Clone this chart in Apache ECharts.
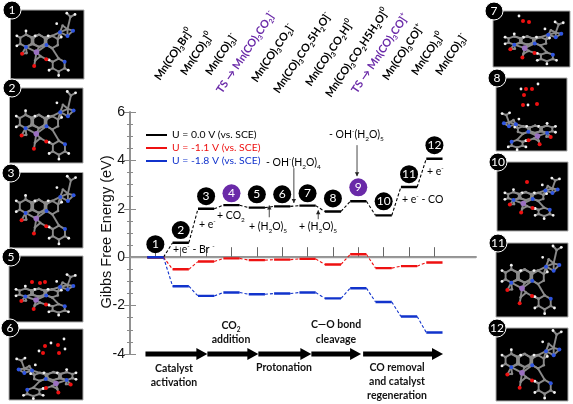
<!DOCTYPE html>
<html><head><meta charset="utf-8">
<style>html,body{margin:0;padding:0;background:#fff}#c{width:573px;height:404px}</style>
<script src="https://cdn.jsdelivr.net/npm/echarts@6/dist/echarts.min.js"></script>
</head><body><div id="c"></div>
<script>
const steps=[1,2,3,4,5,6,7,8,9,10,11,12];
const u00=[0,0.6,2.0,2.15,2.05,2.1,2.13,1.89,2.31,1.73,2.9,4.07];
const u11=[0,-0.5,-0.18,-0.05,-0.12,-0.1,-0.07,-0.3,0.12,-0.45,-0.37,-0.22];
const u18=[0,-1.2,-1.6,-1.46,-1.53,-1.5,-1.46,-1.7,-1.28,-1.85,-2.45,-3.11];
const badgeY=[0.54,1.12,2.52,2.64,2.6,2.6,2.64,2.43,2.89,2.31,3.43,4.63];
const badgeTS=[4,9];
const stageArrows=[[0.61,3.05],[3.05,5.06],[5.06,7.15],[7.15,9.11],[9.19,12.34]];
const noteArrows=[[5.49,1.65,2.14],[6.46,3.68,2.24],[7.42,1.57,1.94],[8.95,4.63,3.35]];
const F='Lato, "Open Sans", sans-serif', A='"Liberation Sans", Arial, sans-serif';
const HALF=0.32;
const plateaus=v=>v.flatMap((y,i)=>[[steps[i]-HALF,y],[steps[i]+HALF,y],[steps[i]+HALF,'-']]);
const links=v=>v.slice(0,-1).flatMap((y,i)=>[[steps[i]+HALF,y],[steps[i+1]-HALF,v[i+1]],[steps[i+1]-HALF,'-']]);
const names=['U = 0.0 V (vs. SCE)','U = -1.1 V (vs. SCE)','U = -1.8 V (vs. SCE)'];
const cols=['#000','#ee1111','#1133cc'];
const vals=[u00,u11,u18];

/* ---- text ---- */
const rich=(size,color,weight)=>({
  n:{fontFamily:F,fontSize:size,fill:color,fontWeight:weight||'normal',lineHeight:size+4,verticalAlign:'middle'},
  s:{fontFamily:F,fontSize:size*0.62,fill:color,fontWeight:weight||'normal',lineHeight:size+4,verticalAlign:'bottom'},
  u:{fontFamily:F,fontSize:size*0.62,fill:color,fontWeight:weight||'normal',lineHeight:size+4,verticalAlign:'top'}
});
const T=(x,y,text,o={})=>({type:'text',x,y,rotation:(o.rot||0)*Math.PI/180,z:20,silent:true,
  style:{text,align:o.align||'left',verticalAlign:'middle',rich:rich(o.size||10.5,o.color||'#111',o.weight),fill:o.color||'#111',fontFamily:F,fontSize:o.size||10.5}});
const n=s=>'{n|'+s+'}', sub=s=>'{s|'+s+'}', sup=s=>'{u|'+s+'}';
const P='#6a2aa8';
const topLabels=[
 [157,79,n('Mn(CO)')+sub('3')+n('Br]')+sup('0')],
 [183,74,n('Mn(CO)')+sub('3')+n(']')+sup('0')],
 [208,74,n('Mn(CO)')+sub('3')+n(']')+sup('-')],
 [219,92,n('TS → Mn(CO)')+sub('3')+n('CO')+sub('2')+n(']')+sup('-'),P],
 [254,81,n('Mn(CO)')+sub('3')+n('CO')+sub('2')+n(']')+sup('-')],
 [276,92,n('Mn(CO)')+sub('3')+n('CO')+sub('2')+n('5H')+sub('2')+n('O]')+sup('-')],
 [308,85,n('Mn(CO)')+sub('3')+n('CO')+sub('2')+n('H]')+sup('0')],
 [328,96,n('Mn(CO)')+sub('3')+n('CO')+sub('2')+n('H5H')+sub('2')+n('O]')+sup('0')],
 [354,92,n('TS → Mn(CO)')+sub('3')+n('CO]')+sup('+'),P],
 [385,79,n('Mn(CO)')+sub('3')+n('CO]')+sup('+')],
 [414,74,n('Mn(CO)')+sub('3')+n(']')+sup('0')],
 [438,74,n('Mn(CO)')+sub('3')+n(']')+sup('-')]
];
const notes=[
 [173,250,n('+ e')+sup('-')+n(' - Br ')+sup('-')],
 [199,225,n('+ e')+sup('-')],
 [217,216,n('+ CO')+sub('2')],
 [249,227,n('+ (H')+sub('2')+n('O)')+sub('5')],
 [266,163,n('- OH')+sup('-')+n('(H')+sub('2')+n('O)')+sub('4')],
 [299,227,n('+ (H')+sub('2')+n('O)')+sub('5')],
 [329,135,n('- OH')+sup('-')+n('(H')+sub('2')+n('O)')+sub('5')],
 [402,200,n('+ e')+sup('-')+n(' - CO')],
 [427,172,n('+ e')+sup('-')]
];
const stages=[
 [174,369,n('Catalyst')],[174,383,n('activation')],
 [231,326,n('CO')+sub('2')],[231,340,n('addition')],
 [284,368,n('Protonation')],
 [336,325,n('C—O bond')],[336,340,n('cleavage')],
 [397,368,n('CO removal')],[397,382,n('and catalyst')],[397,396,n('regeneration')]
];

/* ---- molecule thumbnails (decoration) ---- */
const C='#8c8c8c',H='#f2f2f2',N='#2f55e0',O='#ee1111',M='#9a70c0';
function hex(cx,cy,r,a0,nIdx){const p=[];for(let i=0;i<6;i++){const a=(a0+60*i)*Math.PI/180;p.push([cx+r*Math.cos(a),cy+r*Math.sin(a),i===nIdx?N:C]);}return p;}
const tAtoms=[];
function addRing(cx,cy,r,nIdx,hs){const s=tAtoms.length;hex(cx,cy,r,30,nIdx).forEach(a=>tAtoms.push(a));
 hs.forEach(i=>{const a=tAtoms[s+i];const dx=a[0]-cx,dy=a[1]-cy;tAtoms.push([a[0]+dx*.62,a[1]+dy*.62,H,1]);});}
addRing(78,318,20,1,[2,3,4,5]);
addRing(118,318,20,-1,[5]);
addRing(158,322,20,2,[5]);
addRing(178,397,21,5,[0,1,2,3]);
[[205,280,C],[190,268,C],[182,290,N],[205,302,N],[222,285,N],[214,240,C],[228,232,H,1],[203,228,H,1],[172,262,H,1],
 [110,355,M,2],[80,358,C],[66,360,O],[122,368,C],[140,378,O],[106,382,C],[103,400,O]].forEach(p=>tAtoms.push(p));
const tBonds=[[[158,342],[178,376]],[[205,280],[214,240]]];
tAtoms.forEach((p,i)=>tAtoms.slice(i+1).forEach(q=>{
 const d=Math.hypot(p[0]-q[0],p[1]-q[1]);
 const hasH=p[3]===1||q[3]===1, bothH=p[3]===1&&q[3]===1, mnN=(p[3]===2&&q[2]===N)||(q[3]===2&&p[2]===N);
 if(bothH)return;
 if(d<(mnN?42:hasH?17:28)&&!(p[2]===O&&q[2]===O))tBonds.push([p,q]);
}));
const panels=[
 {b:'1',x:10.5,y:10,w:73.5,h:69,bx:12,by:10,sx:.98,sy:.92,dx:-1,dy:0},
 {b:'2',x:9.5,y:88,w:73.5,h:75,bx:12,by:88,sx:1,sy:1,dx:0,dy:0},
 {b:'3',x:9.5,y:172.5,w:73.5,h:75.5,bx:11,by:173,sx:1,sy:1,dx:0,dy:0},
 {b:'5',x:9,y:256,w:74,h:66,bx:11,by:257,sx:1,sy:.6,dx:0,dy:6,ex:[[31,27,O],[23,26,O],[36,26,O]]},
 {b:'6',x:9,y:329,w:74,h:71,bx:10,by:328,sx:-1,sy:.6,dx:0,dy:14,ex:[[36,17,O],[34,24,O],[49,16,O],[50,24,O],[55,10,H],[42,14,H],[30,22,H],[56,20,H]]},
 {b:'7',x:493,y:11,w:77,h:56,bx:494,by:11,sx:.98,sy:.62,dx:3,dy:4,ex:[[30,10,O],[36,11,O],[26,5,H]]},
 {b:'8',x:496,y:78,w:71,h:73,bx:497,by:78,sx:-.9,sy:.55,dx:-3,dy:17,ex:[[30,11,O],[28,17,O],[36,11,O],[27,27,O],[41,26,O],[42,6,H],[25,11,H],[32,27,H]]},
 {b:'10',x:497,y:162,w:71,h:69,bx:498,by:162,sx:.92,sy:.6,dx:0,dy:2,ex:[[30,20,O]]},
 {b:'11',x:496,y:243,w:72,h:74,bx:498,by:243,sx:1,sy:1,dx:0,dy:0},
 {b:'12',x:496,y:328,w:72,h:73,bx:497,by:328,sx:1,sy:1,dx:0,dy:0}
];
const deco=[];
panels.forEach(p=>{
 deco.push({type:'rect',shape:{x:p.x,y:p.y,width:p.w,height:p.h},style:{fill:'#000',stroke:'#aaa',lineWidth:1},z:1,silent:true});
 const cx=p.x+p.w/2+p.dx, cy=p.y+p.h/2+p.dy;
 const mp=q=>[cx+(q[0]-140)/3*p.sx, cy+(q[1]-330)/3*p.sy];
 tBonds.forEach(b=>{const s=mp(b[0]),e=mp(b[1]);
  deco.push({type:'line',shape:{x1:s[0],y1:s[1],x2:e[0],y2:e[1]},style:{stroke:'#8a8a8a',lineWidth:1.9},z:2,silent:true});});
 tAtoms.forEach(q=>{const m=mp(q);
  deco.push({type:'circle',shape:{cx:m[0],cy:m[1],r:q[3]===2?2.8:q[3]===1?1.4:q[2]===C?1.3:2},style:{fill:q[2]},z:3,silent:true});});
 (p.ex||[]).forEach(q=>deco.push({type:'circle',shape:{cx:p.x+q[0],cy:p.y+q[1],r:q[2]===H?1.4:2},style:{fill:q[2]},z:3,silent:true}));
 deco.push({type:'circle',shape:{cx:p.bx,cy:p.by,r:9},style:{fill:'#000',stroke:'#fff',lineWidth:1},z:4,silent:true});
 deco.push({type:'text',x:p.bx,y:p.by,style:{text:p.b,align:'center',verticalAlign:'middle',fill:'#fff',fontFamily:F,fontSize:12},z:5,silent:true});
});

const graphic=[...deco,
 ...topLabels.map(l=>T(l[0],l[1],l[2],{rot:56,size:10.9,color:l[3]||'#000',weight:'bold'})),
 ...notes.map(l=>T(l[0],l[1],l[2],{size:10.5,color:'#000'})),
 ...stages.map(l=>T(l[0],l[1],l[2],{size:10.5,align:'center',weight:'bold'})),
 {type:'text',x:107,y:232,rotation:Math.PI/2,z:20,silent:true,style:{text:'Gibbs Free Energy (eV)',align:'center',verticalAlign:'middle',fontFamily:A,fontSize:14.5,fill:'#111'}}
];

const axisLine={show:true,lineStyle:{color:'#8a8a8a',width:1.5}};
const XMAX=13.64;
const series=[];
vals.forEach((v,i)=>{
 series.push({name:names[i],type:'line',data:plateaus(v),showSymbol:false,symbol:'none',connectNulls:false,z:3+i,
   lineStyle:{color:cols[i],width:2.4},itemStyle:{color:cols[i]},silent:true,animation:false});
 series.push({name:names[i]+' link',type:'line',data:links(v),showSymbol:false,symbol:'none',connectNulls:false,z:2+i,
   lineStyle:{color:cols[i],width:1.1,type:[3,2]},silent:true,animation:false});
});
series[0].markLine={silent:true,symbol:'none',label:{show:false},animation:false,z:1,
  lineStyle:{color:'#9a9a9a',width:1.3,type:'solid'},data:[{yAxis:0}]};
series.push({type:'scatter',name:'steps',data:steps.map((s,i)=>[s,badgeY[i]]),symbolSize:18,z:10,silent:true,animation:false,
  itemStyle:{opacity:1,color:p=>badgeTS.includes(steps[p.dataIndex])?P:'#000'},
  label:{show:true,position:'inside',formatter:p=>String(steps[p.dataIndex]),color:'#fff',fontFamily:F,fontSize:12}});
series.push({type:'custom',name:'stages',z:9,silent:true,animation:false,clip:false,
  encode:{x:[0,1],y:2},data:stageArrows.map(s=>[s[0],s[1],-4]),
  renderItem:(ctx,api)=>{const a=api.coord([api.value(0),-4]),b=api.coord([api.value(1),-4]);const y=a[1],e=b[0],hl=11,hw=6,sw=2.4;
    return {type:'polygon',shape:{points:[[a[0],y-sw],[e-hl,y-sw],[e-hl,y-hw],[e,y],[e-hl,y+hw],[e-hl,y+sw],[a[0],y+sw]]},style:{fill:'#000'}};}});
series.push({type:'custom',name:'notes',z:9,silent:true,animation:false,clip:false,
  encode:{x:0,y:[1,2]},data:noteArrows,
  renderItem:(ctx,api)=>{const a=api.coord([api.value(0),api.value(1)]),b=api.coord([api.value(0),api.value(2)]);const d=Math.sign(b[1]-a[1]);
    return {type:'group',children:[
      {type:'line',shape:{x1:a[0],y1:a[1],x2:b[0],y2:b[1]},style:{stroke:'#333',lineWidth:.9}},
      {type:'polygon',shape:{points:[[b[0],b[1]],[b[0]-2.2,b[1]-d*4],[b[0]+2.2,b[1]-d*4]]},style:{fill:'#222'}}]};}});

const chart=echarts.init(document.getElementById('c'),null,{renderer:'canvas'});
chart.setOption({
 animation:false,backgroundColor:'#fff',
 grid:{left:130,right:97,top:112,bottom:50,containLabel:false},
 legend:{left:141,top:125,orient:'vertical',itemGap:3,itemWidth:21,itemHeight:11,selectedMode:false,icon:'path://M0 4.5H21V6.5H0Z',
   data:names.map((nm,i)=>({name:nm,textStyle:{color:cols[i],fontFamily:F,fontSize:10.4}}))},
 xAxis:[
  {type:'value',position:'top',min:0,max:XMAX,splitLine:{show:false},axisLine,
   axisTick:{show:true,customValues:steps,length:10,inside:false,lineStyle:{color:'#666',width:1}},axisLabel:{show:false}},
  {type:'value',position:'bottom',min:0,max:XMAX,splitLine:{show:false},axisLine,axisTick:{show:false},axisLabel:{show:false}}
 ],
 yAxis:[
  {type:'value',position:'left',min:-4,max:6,interval:2,splitLine:{show:false},axisLine,
   axisTick:{show:true,inside:true,length:6,lineStyle:{color:'#8a8a8a'}},minorTick:{show:true,splitNumber:4,length:3,lineStyle:{color:'#8a8a8a'}},
   axisLabel:{fontFamily:A,fontSize:14,color:'#111',margin:5}},
  {type:'value',position:'right',min:-4,max:6,interval:2,splitLine:{show:false},axisLine,
   axisTick:{show:true,inside:true,length:6,lineStyle:{color:'#8a8a8a'}},minorTick:{show:true,splitNumber:4,length:3,lineStyle:{color:'#8a8a8a'}},
   axisLabel:{show:false}}
 ],
 series,graphic
});
</script></body></html>
